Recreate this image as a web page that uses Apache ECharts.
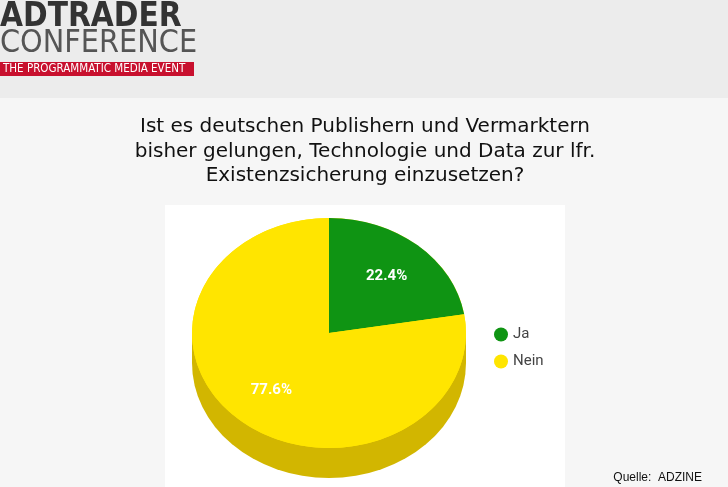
<!DOCTYPE html>
<html>
<head>
<meta charset="utf-8">
<script src="https://cdn.jsdelivr.net/npm/echarts@6/dist/echarts.min.js"></script>
<style>html,body{margin:0;padding:0;}#chart{width:728px;height:487px;}</style>
</head>
<body>
<div id="chart"></div>
<script>
// Daten
var categories = ['Ja', 'Nein'];
var values = [22.4, 77.6];
var colors = ['#0f9413', '#ffe500'];
var sideColor = '#d2b600';

var chart = echarts.init(document.getElementById('chart'));

// Pie-Geometrie (Ellipse)
var cx = 329, cy = 333, rx = 137, ry = 115, depth = 30;
var total = values.reduce(function (a, b) { return a + b; }, 0);

function sliceAngles(idx) {
	var start = -Math.PI / 2;
	for (var i = 0; i < idx; i++) start += values[i] / total * Math.PI * 2;
	return [start, start + values[idx] / total * Math.PI * 2];
}

function renderSlice(params, api) {
	var idx = params.seriesIndex;
	var a = sliceAngles(idx);
	var s = ry / rx;
	var children = [];
	if (idx === 0) {
		// Seitenfläche
		children.push({
			type: 'group', x: cx, y: cy + depth, scaleY: s,
			children: [{ type: 'circle', shape: { cx: 0, cy: 0, r: rx }, style: { fill: sideColor } }]
		});
		children.push({ type: 'rect', shape: { x: cx - rx, y: cy, width: rx * 2, height: depth }, style: { fill: sideColor } });
		children.push({
			type: 'group', x: cx, y: cy, scaleY: s,
			children: [{ type: 'circle', shape: { cx: 0, cy: 0, r: rx }, style: { fill: colors[1] } }]
		});
	}
	children.push({
		type: 'group', x: cx, y: cy, scaleY: s,
		children: [{
			type: 'sector',
			shape: { cx: 0, cy: 0, r: rx, r0: 0, startAngle: a[0], endAngle: a[1], clockwise: true },
			style: { fill: colors[idx] }
		}]
	});
	var mid = (a[0] + a[1]) / 2;
	children.push({
		type: 'text',
		x: cx + 0.65 * rx * Math.cos(mid),
		y: cy + 0.65 * ry * Math.sin(mid),
		style: {
			text: values[idx].toFixed(1) + '%', fill: '#fff', font: 'bold 15px "Roboto"',
			align: 'center', verticalAlign: 'middle'
		}
	});
	return { type: 'group', children: children };
}

var series = categories.map(function (name, i) {
	return {
		name: name, type: 'custom', coordinateSystem: 'none',
		itemStyle: { color: colors[i] },
		data: [[values[i]]],
		renderItem: renderSlice
	};
});

var option = {
	backgroundColor: '#f6f6f6',
	animation: false,
	legend: {
		orient: 'vertical', left: 489, top: 322,
		data: categories, icon: 'circle', itemWidth: 14, itemHeight: 14, itemGap: 12,
		textStyle: { fontSize: 15, color: '#444', fontFamily: 'Roboto' }
	},
	graphic: [
		{ type: 'rect', z: -10, shape: { x: 0, y: 0, width: 728, height: 98 }, style: { fill: '#ececec' } },
		{ type: 'rect', z: -10, shape: { x: 165, y: 205, width: 400, height: 282 }, style: { fill: '#ffffff' } },
		{ type: 'text', x: 0, y: 1, style: { text: 'ADTRADER', font: 'bold 33px "DejaVu Sans Condensed"', fill: '#333', verticalAlign: 'top' } },
		{ type: 'text', x: 0, y: 28, style: { text: 'CONFERENCE', font: '32px "DejaVu Sans Condensed"', fill: '#555', verticalAlign: 'top' } },
		{ type: 'rect', shape: { x: 0, y: 62, width: 194, height: 14 }, style: { fill: '#c8102e' } },
		{ type: 'text', x: 3, y: 63, style: { text: 'THE PROGRAMMATIC MEDIA EVENT', font: '11.5px "DejaVu Sans Condensed"', fill: '#fff', verticalAlign: 'top' } },
		{ type: 'text', x: 365, y: 115, style: {
			text: 'Ist es deutschen Publishern und Vermarktern\nbisher gelungen, Technologie und Data zur lfr.\nExistenzsicherung einzusetzen?',
			font: '20px "DejaVu Sans"', fill: '#111', align: 'center', verticalAlign: 'top', lineHeight: 24.5 } },
		{ type: 'text', right: 26, top: 472, style: { text: 'Quelle:  ADZINE', font: '12px "Liberation Sans"', fill: '#111' } }
	],
	series: series
};
chart.setOption(option);
</script>
</body>
</html>
